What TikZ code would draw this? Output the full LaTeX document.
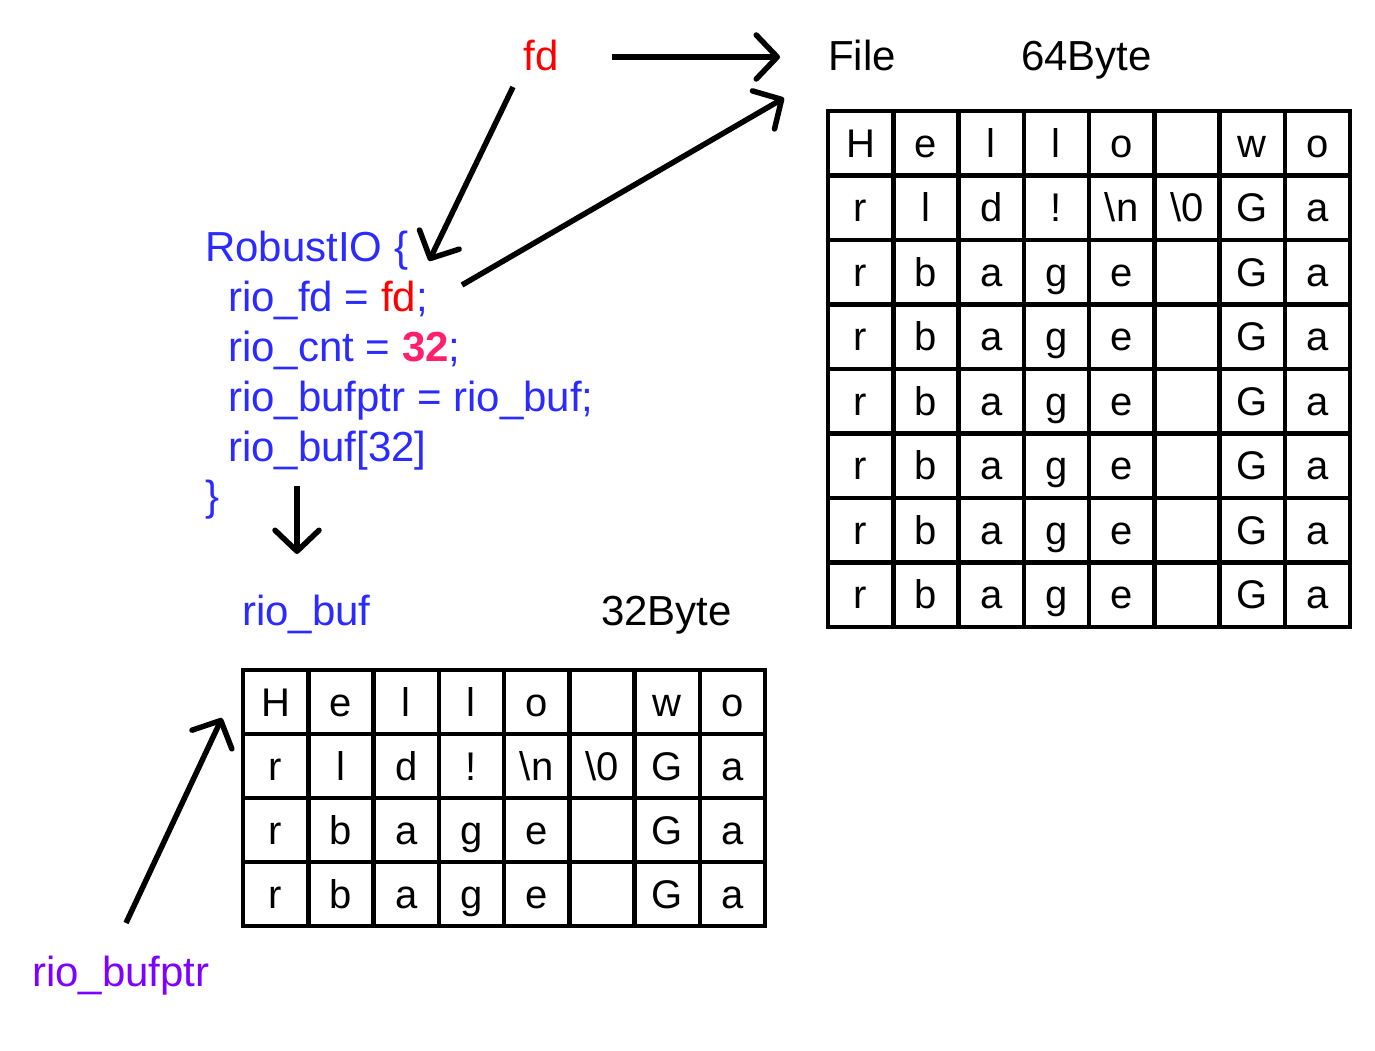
\documentclass[tikz,border=0pt]{standalone}
\usepackage{fontspec}
\setmainfont{Liberation Sans}
\usetikzlibrary{arrows.meta}
\definecolor{codeblue}{HTML}{2B2BFF}
\definecolor{fdred}{HTML}{FF0000}
\definecolor{numpink}{HTML}{FF1F6B}
\definecolor{ptrpurple}{HTML}{7F00FF}
\begin{document}
\begin{tikzpicture}[x=1pt,y=-1pt,
  lbl/.style={font=\fontsize{42}{50}\selectfont, inner sep=0pt, anchor=base west},
  cell/.style={font=\fontsize{40}{48}\selectfont, inner sep=0pt, anchor=base},
  arr/.style={line width=5.5pt, -{Straight Barb[length=21pt,width=44pt,round]}},
  gridln/.style={line width=4.5pt, line cap=rect}]
\useasboundingbox[fill=white] (0,0) rectangle (1375,1051);

% ---------- labels ----------
\node[lbl, anchor=base, text=fdred] (fd) at (541,71) {fd};
\node[lbl] (file) at (828,71) {File};
\node[lbl] (b64) at (1021,71) {64Byte};

\node[lbl, text=codeblue] (l1) at (205,261) {RobustIO \{};
\node[lbl, text=codeblue] (l2) at (228,311) {rio\_fd = \textcolor{fdred}{fd};};
\node[lbl, text=codeblue] (l3) at (228,361) {rio\_cnt = \textcolor{numpink}{\bfseries 32};};
\node[lbl, text=codeblue] (l4) at (228,411) {rio\_bufptr = rio\_buf;};
\node[lbl, text=codeblue] (l5) at (228,461) {rio\_buf[32]};
\node[lbl, text=codeblue] (l6) at (205,510) {\}};

\node[lbl, text=codeblue] (rbuf) at (242,625) {rio\_buf};
\node[lbl] (b32) at (601,625) {32Byte};
\node[lbl, text=ptrpurple] (rptr) at (32,986) {rio\_bufptr};

% ---------- big grid (File) ----------
\foreach \i in {0,...,8} \draw[gridln] ({828+\i*65.25},111) -- ({828+\i*65.25},627);
\foreach \j in {0,...,8} \draw[gridln] (828,{111+\j*64.5}) -- (1350,{111+\j*64.5});
\foreach \t [count=\k] in {H,e,l,l,o,{},w,o}
  \node[cell] (F1-\k) at ({828+(\k-0.5)*65.25},{111+0.5*64.5+14}) {\t};
\foreach \t [count=\k] in {r,l,d,!,{\textbackslash n},{\textbackslash 0},G,a}
  \node[cell] (F2-\k) at ({828+(\k-0.5)*65.25},{111+1.5*64.5+14}) {\t};
\foreach \r in {3,...,8}
  \foreach \t [count=\k] in {r,b,a,g,e,{},G,a}
    \node[cell] (F\r-\k) at ({828+(\k-0.5)*65.25},{111+(\r-0.5)*64.5+14}) {\t};

% ---------- small grid (rio_buf) ----------
\foreach \i in {0,...,8} \draw[gridln] ({243+\i*65.25},670) -- ({243+\i*65.25},926);
\foreach \j in {0,...,4} \draw[gridln] (243,{670+\j*64}) -- (765,{670+\j*64});
\foreach \t [count=\k] in {H,e,l,l,o,{},w,o}
  \node[cell] (B1-\k) at ({243+(\k-0.5)*65.25},{670+0.5*64+14}) {\t};
\foreach \t [count=\k] in {r,l,d,!,{\textbackslash n},{\textbackslash 0},G,a}
  \node[cell] (B2-\k) at ({243+(\k-0.5)*65.25},{670+1.5*64+14}) {\t};
\foreach \r in {3,4}
  \foreach \t [count=\k] in {r,b,a,g,e,{},G,a}
    \node[cell] (B\r-\k) at ({243+(\k-0.5)*65.25},{670+(\r-0.5)*64+14}) {\t};

% ---------- arrows ----------
\coordinate (a1s) at (612,57);  \coordinate (a1e) at (780,57);
\coordinate (a2s) at (513,87);  \coordinate (a2e) at (429,261);
\coordinate (a3s) at (462,285); \coordinate (a3e) at (784,98);
\coordinate (a4s) at (297,486); \coordinate (a4e) at (297,554);
\coordinate (a5s) at (126,923); \coordinate (a5e) at (222,718);
\draw[arr] (a1s) -- (a1e);
\draw[arr] (a2s) -- (a2e);
\draw[arr] (a3s) -- (a3e);
\draw[arr] (a4s) -- (a4e);
\draw[arr] (a5s) -- (a5e);
\end{tikzpicture}
\end{document}
